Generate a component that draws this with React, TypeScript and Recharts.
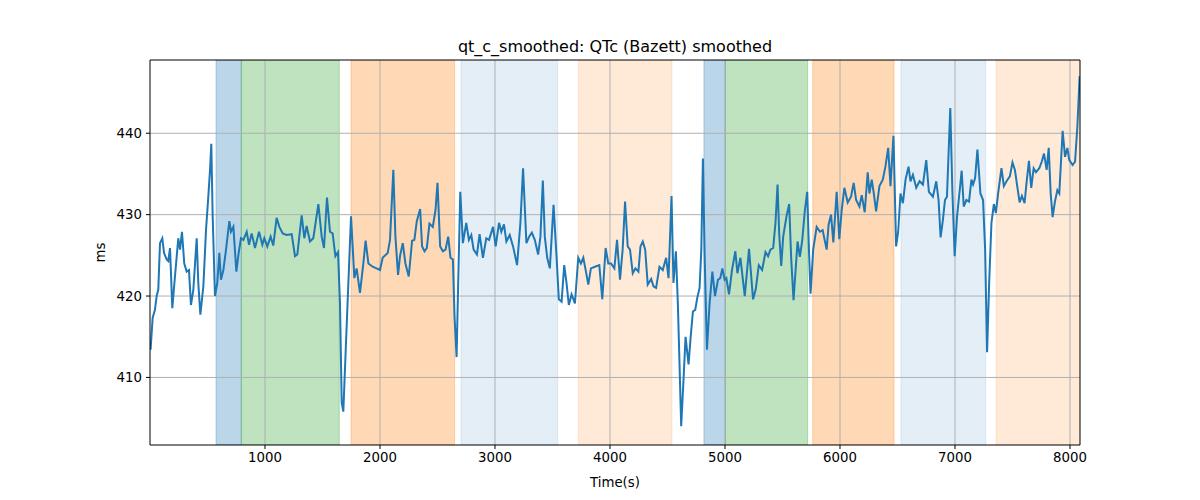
import React from 'react';
import {
  LineChart,
  Line,
  XAxis,
  YAxis,
  ReferenceArea,
  ReferenceLine,
} from 'recharts';

// time stamps (s)
const times = [
  5, 23, 43, 58, 72, 87, 107, 122, 145, 159, 174, 194, 217, 246, 261, 278, 298, 319, 339, 356,
  377, 406, 420, 438, 464, 487, 507, 522, 533, 545, 565, 585, 603, 617, 638, 661, 690, 704, 725, 751,
  771, 791, 812, 841, 861, 884, 913, 948, 977, 994, 1020, 1049, 1072, 1101, 1125, 1154, 1188, 1232, 1261, 1281,
  1319, 1342, 1362, 1391, 1420, 1464, 1493, 1513, 1539, 1565, 1588, 1612, 1635, 1652, 1667, 1681, 1702, 1725, 1748, 1777,
  1797, 1826, 1855, 1875, 1899, 1936, 1970, 2000, 2023, 2067, 2087, 2116, 2134, 2157, 2174, 2198, 2221, 2250, 2279, 2299,
  2320, 2349, 2366, 2387, 2407, 2430, 2459, 2483, 2500, 2523, 2547, 2570, 2593, 2613, 2634, 2648, 2666, 2680, 2698, 2721,
  2750, 2773, 2794, 2814, 2843, 2866, 2895, 2924, 2948, 2983, 3006, 3035, 3055, 3078, 3099, 3128, 3157, 3192, 3221, 3244,
  3273, 3297, 3320, 3346, 3375, 3395, 3416, 3433, 3454, 3477, 3509, 3535, 3555, 3579, 3602, 3622, 3642, 3666, 3695, 3724,
  3747, 3768, 3791, 3811, 3834, 3869, 3907, 3933, 3962, 3985, 4009, 4038, 4061, 4087, 4110, 4131, 4154, 4174, 4198, 4221,
  4247, 4265, 4285, 4306, 4328, 4358, 4378, 4401, 4430, 4459, 4488, 4509, 4535, 4552, 4573, 4590, 4605, 4619, 4640, 4657,
  4683, 4701, 4721, 4741, 4759, 4779, 4794, 4808, 4823, 4843, 4866, 4890, 4913, 4939, 4959, 4977, 4997, 5012, 5035, 5061,
  5090, 5108, 5134, 5172, 5209, 5244, 5267, 5294, 5323, 5352, 5375, 5395, 5419, 5439, 5457, 5471, 5489, 5506, 5535, 5558,
  5576, 5596, 5613, 5631, 5651, 5672, 5695, 5715, 5730, 5744, 5767, 5797, 5826, 5849, 5884, 5901, 5922, 5942, 5971, 5994,
  6015, 6038, 6067, 6096, 6119, 6140, 6169, 6189, 6215, 6241, 6256, 6276, 6294, 6314, 6343, 6372, 6395, 6419, 6439, 6465,
  6488, 6506, 6526, 6547, 6570, 6596, 6613, 6634, 6663, 6692, 6721, 6750, 6773, 6808, 6837, 6857, 6875, 6895, 6913, 6930,
  6959, 6977, 6997, 7018, 7041, 7058, 7076, 7099, 7122, 7143, 7157, 7175, 7195, 7221, 7244, 7262, 7279, 7297, 7317, 7338,
  7355, 7375, 7404, 7425, 7448, 7477, 7500, 7521, 7541, 7562, 7582, 7605, 7622, 7643, 7663, 7684, 7704, 7733, 7754, 7774,
  7797, 7815, 7832, 7849, 7869, 7890, 7907, 7936, 7957, 7977, 7994, 8023, 8044, 8064, 8084,
];

// smoothed QTc values (ms)
const qtc = [
  413.4, 417.3, 418.3, 420.0, 420.8, 426.5, 427.1, 425.3, 424.5, 424.3, 425.9, 418.5, 422.4, 427.1, 425.7, 427.9, 424.0, 423.0, 423.2, 418.9,
  420.8, 427.1, 421.6, 417.7, 421.2, 428.1, 432.2, 435.5, 438.7, 429.8, 420.0, 421.6, 425.3, 422.0, 423.2, 425.7, 429.2, 427.9, 428.5, 423.0,
  425.3, 427.1, 426.9, 427.9, 426.3, 427.7, 425.9, 427.9, 426.3, 427.1, 426.1, 427.3, 426.2, 429.6, 428.5, 427.7, 427.5, 427.6, 424.9, 425.1,
  429.9, 427.1, 428.6, 426.7, 427.1, 431.3, 427.3, 425.9, 432.1, 427.9, 427.7, 424.9, 425.4, 419.1, 406.9, 405.8, 413.4, 421.6, 429.8, 422.2,
  423.4, 420.4, 424.0, 426.8, 424.0, 423.6, 423.4, 423.2, 424.7, 425.3, 426.9, 435.5, 427.3, 422.6, 424.9, 426.5, 424.0, 422.4, 426.8, 426.9,
  429.2, 430.7, 426.1, 425.5, 425.9, 428.9, 428.5, 430.6, 433.9, 426.1, 425.5, 425.7, 427.3, 424.7, 424.5, 417.5, 412.5, 421.6, 432.8, 426.5,
  429.0, 426.9, 427.5, 425.7, 425.1, 427.6, 424.7, 427.1, 426.9, 428.5, 426.1, 429.0, 427.9, 428.8, 426.7, 427.5, 426.1, 423.8, 429.0, 435.7,
  426.5, 427.3, 427.8, 426.9, 425.1, 427.3, 434.2, 427.3, 424.7, 423.4, 431.2, 424.9, 419.6, 419.3, 423.8, 421.6, 418.9, 420.2, 419.1, 424.7,
  424.0, 424.7, 423.0, 421.4, 423.4, 423.6, 423.8, 419.6, 425.9, 424.0, 424.0, 423.4, 426.9, 422.0, 425.7, 431.6, 426.1, 425.7, 422.8, 423.4,
  423.0, 426.1, 426.7, 425.7, 421.4, 422.1, 421.2, 421.0, 423.6, 423.2, 424.7, 422.2, 432.3, 421.6, 425.5, 419.1, 411.4, 404.0, 409.9, 415.0,
  411.6, 414.9, 418.1, 418.3, 419.8, 421.0, 425.7, 436.9, 424.9, 413.4, 419.1, 423.0, 420.0, 422.0, 422.2, 423.4, 422.0, 422.2, 420.2, 423.2,
  425.5, 422.8, 424.7, 420.0, 425.8, 419.6, 420.8, 423.8, 423.2, 425.4, 424.9, 425.7, 425.9, 429.0, 433.7, 427.7, 423.7, 427.3, 429.8, 431.3,
  424.5, 419.5, 423.0, 426.7, 424.8, 426.9, 430.6, 432.8, 425.7, 420.3, 425.7, 428.5, 427.9, 428.1, 425.7, 428.8, 430.0, 426.6, 432.8, 427.0,
  430.6, 433.3, 431.5, 432.2, 433.9, 431.8, 431.0, 432.4, 430.3, 435.2, 432.6, 434.3, 432.6, 430.4, 433.5, 434.3, 435.9, 438.2, 433.5, 439.7,
  426.1, 427.9, 432.6, 431.4, 434.3, 435.9, 434.1, 434.9, 433.3, 434.1, 433.7, 436.7, 432.8, 432.2, 434.1, 431.8, 427.2, 429.4, 431.8, 432.2,
  443.1, 433.0, 424.9, 429.8, 433.0, 435.4, 431.0, 431.8, 431.6, 434.3, 433.7, 434.5, 438.0, 432.6, 431.8, 425.7, 413.1, 421.6, 429.0, 431.3,
  430.2, 432.6, 435.7, 433.5, 434.1, 434.7, 436.4, 435.5, 433.5, 431.5, 432.3, 431.4, 433.9, 436.6, 433.3, 435.7, 435.2, 435.7, 436.5, 437.5,
  435.5, 438.2, 432.6, 429.7, 431.6, 433.0, 432.6, 440.3, 437.1, 438.2, 436.7, 436.1, 436.5, 440.8, 447.0,
];

// shaded segments
const bandStart = [574, 794, 1748, 2704, 3725, 4817, 5003, 5763, 6530, 7357];
const bandEnd = [794, 1646, 2649, 3545, 4539, 5003, 5719, 6470, 7267, 8087];
const bandKind = ['blue', 'green', 'orange', 'paleBlue', 'paleOrange', 'blue', 'green', 'orange', 'paleBlue', 'paleOrange'];

const xTicks = [1000, 2000, 3000, 4000, 5000, 6000, 7000, 8000];
const yTicks = [410, 420, 430, 440];
const xDomain = [0, 8087];
const yDomain = [401.7, 449];

const bandStyle: Record<string, { fill: string; opacity: number }> = {
  blue: { fill: '#1f77b4', opacity: 0.3 },
  green: { fill: '#2ca02c', opacity: 0.3 },
  orange: { fill: '#ff7f0e', opacity: 0.3 },
  paleBlue: { fill: '#1f77b4', opacity: 0.12 },
  paleOrange: { fill: '#ff7f0e', opacity: 0.16 },
};

const data = times.map((t, i) => ({ t, qtc: qtc[i] }));

const font = 'DejaVu Sans, sans-serif';
const tickStyle = { fill: '#000', fontSize: 13.3, fontFamily: font };

const App: React.FC = () => {
  return (
    <div style={{ position: 'absolute', left: 0, top: 0, width: 1200, height: 500, background: '#fff' }}>
      <div
        style={{
          position: 'absolute',
          left: 150,
          width: 930,
          top: 37,
          textAlign: 'center',
          fontFamily: font,
          fontSize: 16,
          color: '#000',
        }}
      >
        qt_c_smoothed: QTc (Bazett) smoothed
      </div>
      <LineChart
        width={1200}
        height={500}
        data={data}
        margin={{ top: 60, right: 120, bottom: 0, left: 90 }}
      >
        <XAxis
          type="number"
          dataKey="t"
          domain={xDomain}
          ticks={xTicks}
          allowDataOverflow
          height={55}
          tickSize={4}
          tickMargin={4}
          tick={tickStyle}
          axisLine={{ stroke: '#000', strokeWidth: 1 }}
          tickLine={{ stroke: '#000' }}
          label={{ value: 'Time(s)', position: 'insideBottom', offset: 13, style: { ...tickStyle, textAnchor: 'middle' } }}
        />
        <YAxis
          type="number"
          domain={yDomain}
          ticks={yTicks}
          allowDataOverflow
          width={60}
          tickSize={4}
          tickMargin={4}
          tick={tickStyle}
          axisLine={{ stroke: '#000', strokeWidth: 1 }}
          tickLine={{ stroke: '#000' }}
          label={{ value: 'ms', angle: -90, position: 'insideLeft', offset: 10, style: { ...tickStyle, textAnchor: 'middle' } }}
        />
        {bandStart.map((s, i) => (
          <ReferenceArea
            key={'band' + i}
            x1={s}
            x2={bandEnd[i]}
            fill={bandStyle[bandKind[i]].fill}
            fillOpacity={bandStyle[bandKind[i]].opacity}
            stroke={bandStyle[bandKind[i]].fill}
            strokeOpacity={bandStyle[bandKind[i]].opacity}
            ifOverflow="hidden"
          />
        ))}
        {xTicks.map((v) => (
          <ReferenceLine key={'gx' + v} x={v} stroke="#b0b0b0" strokeWidth={1} />
        ))}
        {yTicks.map((v) => (
          <ReferenceLine key={'gy' + v} y={v} stroke="#b0b0b0" strokeWidth={1} />
        ))}
        <Line
          type="linear"
          dataKey="qtc"
          stroke="#1f77b4"
          strokeWidth={2}
          dot={false}
          isAnimationActive={false}
        />
        <ReferenceLine x={xDomain[1]} stroke="#000" strokeWidth={1} />
        <ReferenceLine y={yDomain[1]} stroke="#000" strokeWidth={1} />
      </LineChart>
    </div>
  );
};

export default App;
